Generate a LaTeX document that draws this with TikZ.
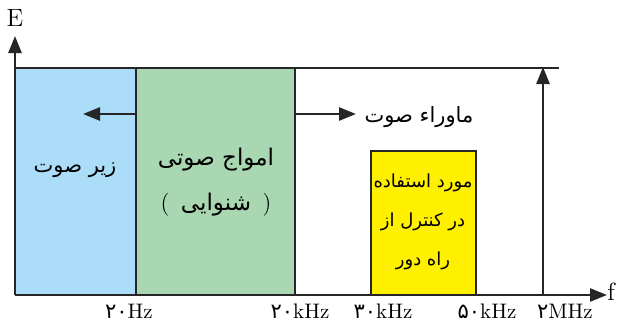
\documentclass[tikz,border=0pt]{standalone}
\usepackage{fontspec}
\newfontfamily\arabicfont[Script=Arabic]{DejaVu Sans}
\TeXXeTstate=1
\usetikzlibrary{arrows.meta}
\definecolor{infrablue}{RGB}{171,221,248}
\definecolor{audiogreen}{RGB}{168,215,178}
\definecolor{remoteyellow}{RGB}{255,240,0}
\tikzset{
  edge/.style={line width=1.3pt,draw=black!85},
  arrowline/.style={edge,-{Triangle[length=8.5pt,width=6.5pt]}},
  fatext/.style={font=\arabicfont\fontsize{10.5}{19}\selectfont,align=center},
  freqlabel/.style={font=\fontsize{10.5}{12}\selectfont,anchor=base}
}
\begin{document}
\begin{tikzpicture}[x=0.5pt,y=-0.5pt]
\useasboundingbox (0,0) rectangle (617,322);
% Bands
\fill[infrablue] (15,68) rectangle (136,295);
\fill[audiogreen] (136,68) rectangle (295,295);
\fill[remoteyellow] (371,151) rectangle (476,295);
% Corners
\coordinate (origin) at (15,295);
\coordinate (etop) at (15,36);
\coordinate (fend) at (607,295);
\coordinate (lim) at (559,68);
\coordinate (lowleft) at (136,114);
\coordinate (lowtip) at (83,114);
\coordinate (highleft) at (295,114);
\coordinate (hightip) at (356,114);
\coordinate (mhzbase) at (543,295);
\coordinate (mhztop) at (543,67);
% Axes and limits
\draw[arrowline] (origin) -- (etop);
\draw[arrowline] (origin) -- (fend);
\draw[edge] (15,68) -- (lim);
\draw[edge] (136,68) -- (136,295);
\draw[edge] (295,68) -- (295,295);
\draw[edge] (371,295) -- (371,151) -- (476,151) -- (476,295);
\draw[arrowline] (mhzbase) -- (mhztop);
% Band arrows
\draw[arrowline] (lowleft) -- (lowtip);
\draw[arrowline] (highleft) -- (hightip);
% Axis names
\node[font=\fontsize{12.5}{14}\selectfont] (E) at (15,18) {E};
\node[font=\fontsize{12.5}{14}\selectfont] (f) at (611,292) {f};
% Band texts
\node[fatext] (infra) at (75,170) {\beginR زیر صوت\endR};
\node[fatext,font=\arabicfont\fontsize{11.5}{19}\selectfont] (audio) at (216,160) {\beginR امواج صوتی\endR};
\node[fatext,font=\arabicfont\fontsize{11.5}{19}\selectfont] (hear) at (216,205) {{\rmfamily(}\enspace\beginR شنوایی\endR\enspace{\rmfamily)}};
\node[fatext] (ultra) at (419,117) {\beginR ماوراء صوت\endR};
\node[fatext,font=\arabicfont\fontsize{9}{19.5}\selectfont] (remote) at (423,222)
  {\beginR مورد استفاده\endR\\\beginR در کنترل از\endR\\\beginR راه دور\endR};
% Frequencies
\node[freqlabel] (f20) at (129,318) {{\arabicfont ۲۰}Hz};
\node[freqlabel] (f20k) at (300,318) {{\arabicfont ۲۰}kHz};
\node[freqlabel] (f30k) at (383,318) {{\arabicfont ۳۰}kHz};
\node[freqlabel] (f50k) at (487,318) {{\arabicfont ۵۰}kHz};
\node[freqlabel] (f2m) at (565,318) {{\arabicfont ۲}MHz};
\end{tikzpicture}
\end{document}
